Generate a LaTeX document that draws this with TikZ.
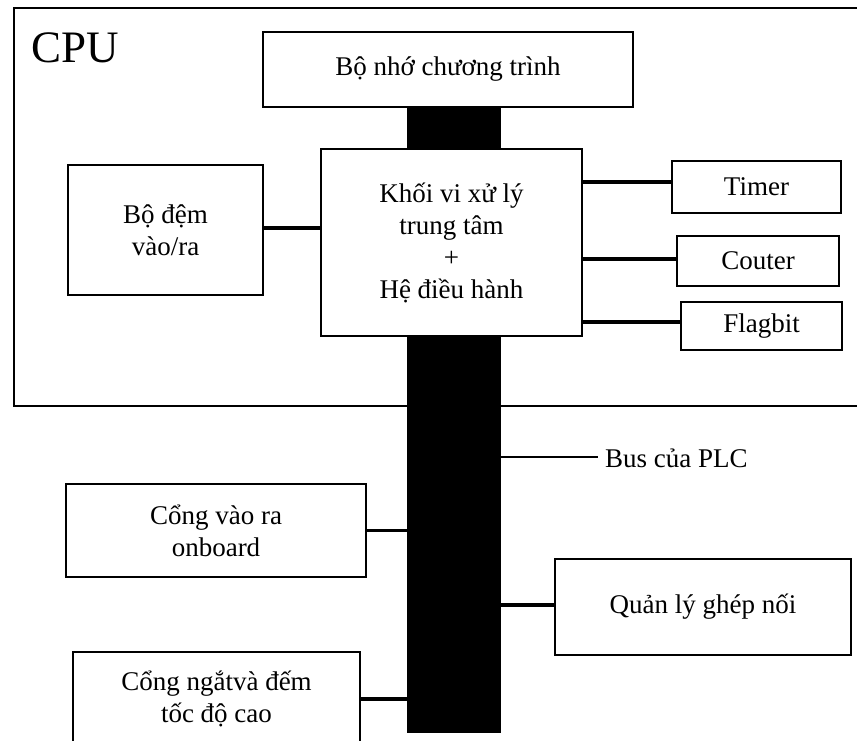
\documentclass[tikz,border=0pt]{standalone}
\usepackage{fontspec}
\setmainfont{Liberation Serif}
\tikzset{
  box/.style={draw=black, line width=1.5pt, fill=white, align=center, inner sep=0pt,
              font=\fontsize{27}{32}\selectfont},
  conn/.style={line width=3.2pt},
  thin/.style={line width=1.4pt},
  lbl/.style={font=\fontsize{27}{32}\selectfont, inner sep=0pt}
}
\begin{document}
\begin{tikzpicture}[x=1pt,y=-1pt]
\clip (0,0) rectangle (857,740);
\fill[white] (0,0) rectangle (857,740);
% CPU frame (open to the right)
\draw[line width=1.5pt] (860,8) -- (14,8) -- (14,406) -- (860,406);
\node[anchor=base west, inner sep=0pt, font=\fontsize{45}{50}\selectfont] (cpulbl) at (31,62) {CPU};
% bus
\node[fill=black, draw=black, minimum width=93pt, minimum height=625pt, inner sep=0pt] (bus) at (453.5,419.5) {};
% boxes
\node[box, minimum width=370pt, minimum height=75pt] (mem) at (448,69.5) {Bộ nhớ chương trình};
\node[box, minimum width=261pt, minimum height=187pt] (cpu) at (451.5,242.5) {Khối vi xử lý\\trung tâm\\+\\Hệ điều hành};
\node[box, minimum width=195pt, minimum height=130pt] (buf) at (165.5,230) {Bộ đệm\\vào/ra};
\node[box, minimum width=169pt, minimum height=52pt] (timer) at (756.5,187) {Timer};
\node[box, minimum width=162pt, minimum height=50pt] (couter) at (758,261) {Couter};
\node[box, minimum width=161pt, minimum height=48pt] (flag) at (761.5,326) {Flagbit};
\node[box, minimum width=300pt, minimum height=93pt] (onboard) at (216,530.5) {Cổng vào ra\\onboard};
\node[box, minimum width=287pt, minimum height=94pt] (ngat) at (216.5,699) {Cổng ngắtvà đếm\\tốc độ cao};
\node[box, minimum width=296pt, minimum height=96pt] (ql) at (703,607) {Quản lý ghép nối};
% connectors
\draw[conn] (buf.east |- 0,228) -- (cpu.west |- 0,228);
\draw[conn] (cpu.east |- 0,182) -- (timer.west |- 0,182);
\draw[conn] (cpu.east |- 0,259) -- (couter.west |- 0,259);
\draw[conn] (cpu.east |- 0,322) -- (flag.west |- 0,322);
\draw[conn] (onboard.east) -- (onboard.east -| bus.west);
\draw[conn] (ngat.east) -- (ngat.east -| bus.west);
\draw[conn] (bus.east |- 0,605) -- (ql.west |- 0,605);
% bus label
\coordinate (busend) at (598,457);
\draw[thin] (bus.east |- busend) -- (busend);
\node[lbl, anchor=base west] (buslbl) at (605,467) {Bus của PLC};
\end{tikzpicture}
\end{document}
